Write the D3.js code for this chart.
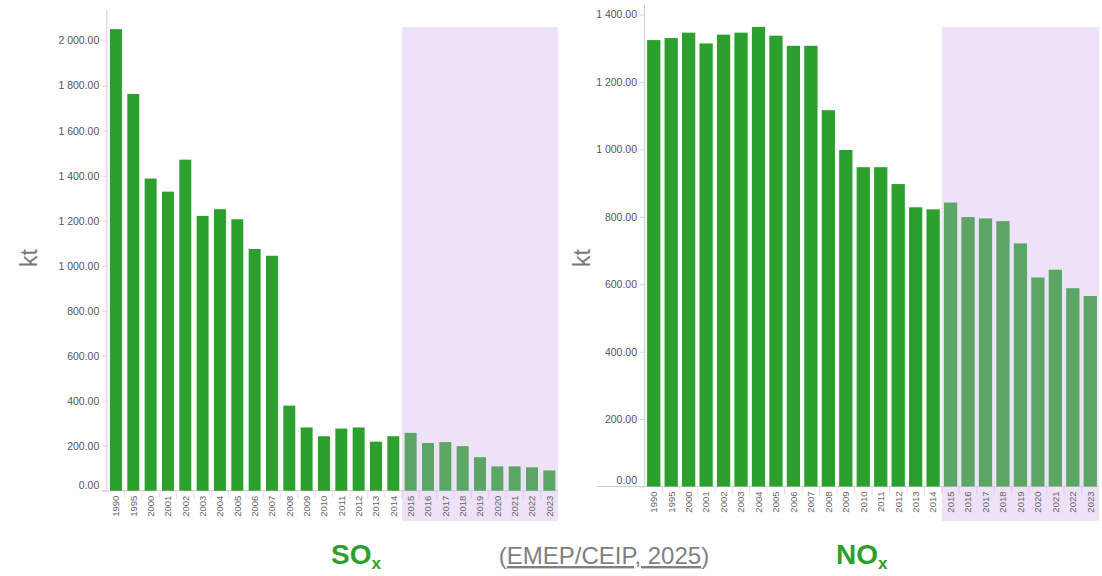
<!DOCTYPE html>
<html><head><meta charset="utf-8">
<script src="https://cdn.jsdelivr.net/npm/d3@7"></script>
<style>
html,body{margin:0;padding:0;background:#fff;}
svg{display:block;font-family:"Liberation Sans",Arial,sans-serif;}
</style></head>
<body>
<svg id="chart" width="1102" height="576"></svg>
<script>
// ---- data ----
const years = ["1990","1995","2000","2001","2002","2003","2004","2005","2006","2007","2008","2009","2010","2011","2012","2013","2014","2015","2016","2017","2018","2019","2020","2021","2022","2023"];
const soxValues = [2051,1763,1387,1329,1471,1221,1251,1206,1074,1044,378,281,242,276,281,218,242,257,212,216,198,149,108,108,104,90];
const noxValues = [1324,1330,1346,1314,1340,1346,1363,1337,1307,1307,1116,998,947,947,897,828,822,842,799,795,787,721,620,643,588,565];
const soxTicks = [0,200,400,600,800,1000,1200,1400,1600,1800,2000];
const noxTicks = [0,200,400,600,800,1000,1200,1400];
const highlightStart = "2015";
const unitLabel = "kt";

const svg = d3.select("#chart");
const loc = d3.formatLocale({decimal:".", thousands:"\u00a0", grouping:[3], currency:["",""]});
const fmt = loc.format(",.2f");

function panel(cfg){
  const g = svg.append("g");
  const x = d3.scaleBand().domain(years).range(cfg.xr).paddingInner(cfg.pad).paddingOuter(cfg.pad/2);
  const y = d3.scaleLinear().domain(cfg.yd).range(cfg.yr);
  const step = x.step();
  const hx = x(highlightStart) - step*cfg.pad/2;
  // highlight region
  g.append("rect").attr("x", hx).attr("y", cfg.hTop)
    .attr("width", cfg.xr[1] - hx).attr("height", cfg.hBottom - cfg.hTop)
    .attr("fill", "#ede2f7");
  // x axis baseline
  g.append("line").attr("x1", cfg.baseX0).attr("x2", cfg.xr[1]).attr("y1", y(0)).attr("y2", y(0))
    .attr("stroke", "#cfcfcf").attr("stroke-width", 1);
  // bars
  const idx = years.indexOf(highlightStart);
  g.selectAll("rect.bar").data(years).enter().append("rect").attr("class","bar")
    .attr("x", d => x(d)).attr("width", x.bandwidth())
    .attr("y", (d,i) => y(cfg.values[i])).attr("height", (d,i) => y(0) - y(cfg.values[i]))
    .attr("fill", (d,i) => i >= idx ? "#5ba565" : "#2ca02c");
  // y axis
  const ya = d3.axisLeft(y).tickValues(cfg.ticks).tickFormat(fmt).tickSize(5).tickPadding(3);
  const yg = g.append("g").attr("transform", `translate(${cfg.xr[0]},0)`).call(ya);
  yg.select(".domain").attr("stroke", "#d4d4d4").attr("d", `M-0.5,${cfg.yr[1]}V${y(0)}`);
  yg.selectAll(".tick line").attr("stroke", "#d4d4d4");
  yg.selectAll(".tick text").attr("fill", "#555").style("font-size", "10.5px")
    .style("font-family", "Liberation Sans, Arial, sans-serif");
  yg.selectAll(".tick").filter(d => d === 0).select("text").attr("dy", "-0.25em");
  // x axis
  const xa = d3.axisBottom(x).tickSize(0).tickPadding(0);
  const xg = g.append("g").attr("transform", `translate(0,${y(0)})`).call(xa);
  xg.select(".domain").remove();
  xg.selectAll(".tick text").attr("transform", "rotate(-90)")
    .attr("x", -5).attr("y", 0).attr("dy", "0.35em").attr("text-anchor", "end")
    .attr("fill", "#666").style("font-size", "9.5px").style("font-family", "Liberation Sans, Arial, sans-serif");
  // separator ticks between categories
  g.selectAll("line.sep").data(years.slice(1)).enter().append("line").attr("class","sep")
    .attr("x1", d => x(d) - step*cfg.pad/2).attr("x2", d => x(d) - step*cfg.pad/2)
    .attr("y1", y(0)).attr("y2", y(0) + 8)
    .attr("stroke", (d,i) => (i+1) >= idx ? "#e3c9e6" : "#e2e2e2").attr("stroke-width", 1);
  // unit label
  g.append("text").attr("transform", `translate(${cfg.kx},${cfg.ky}) rotate(-90)`)
    .attr("text-anchor", "middle").attr("dy", "0.35em")
    .attr("fill", "#777").style("font-size", "23px").text(unitLabel);
}

panel({xr:[107.3, 558], pad:0.31, yd:[0,2136], yr:[490.7,10], values:soxValues, ticks:soxTicks,
       hTop:27, hBottom:521, baseX0:102, kx:29, ky:258});
panel({xr:[645, 1099], pad:0.24, yd:[0,1428], yr:[486.5,5], values:noxValues, ticks:noxTicks,
       hTop:27, hBottom:521, baseX0:597, kx:582, ky:258});

// captions
function formula(x0, main){
  const t = svg.append("text").attr("x", x0).attr("y", 564).attr("fill", "#2ca02c")
    .style("font-weight", "bold").style("font-size", "28px")
    .style("font-family", "Liberation Sans, Arial, sans-serif");
  t.append("tspan").text(main);
  t.append("tspan").attr("dy", 5).style("font-size", "17px").text("x");
}
formula(331, "SO");
formula(836, "NO");

const src = svg.append("text").attr("x", 604).attr("y", 564).attr("text-anchor", "middle")
  .attr("fill", "#7f7f7f").style("font-size", "24px")
  .style("font-family", "Liberation Sans, Arial, sans-serif");
src.append("tspan").text("(");
src.append("tspan").style("text-decoration", "underline").text("EMEP/CEIP, 2025");
src.append("tspan").text(")");
</script>
</body></html>
